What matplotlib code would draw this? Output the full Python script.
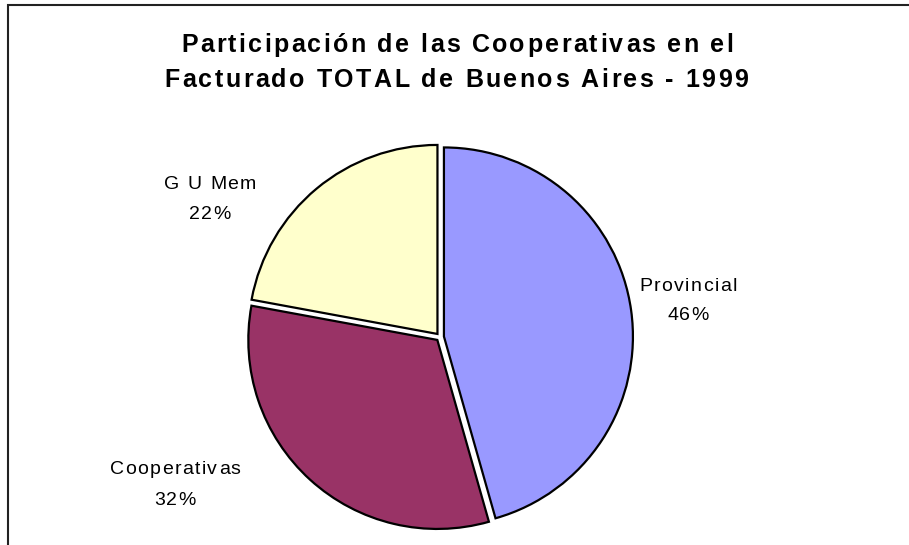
import matplotlib.pyplot as plt
from matplotlib.patches import Rectangle
from matplotlib import font_manager
from matplotlib.ft2font import FT2Font

try:
    from matplotlib.ft2font import LoadFlags
    NO_HINT = LoadFlags.NO_HINTING
except ImportError:
    NO_HINT = 2

labels = ["Provincial", "Cooperativas", "G U Mem"]
shares = [45.6, 32.3, 22.1]
colors = ["#9999FF", "#993366", "#FFFFCC"]
explode = [0.021, 0.021, 0.021]

title_lines = ["Participación de las Cooperativas en el",
               "Facturado TOTAL de Buenos Aires - 1999"]

W, H = 909, 545
FAMILY = "Liberation Sans"

fig = plt.figure(figsize=(W / 100, H / 100), dpi=100)


def spaced(text, cx, base_y, size, weight="normal", width=None, track=0.0):
    # letter-spaced text, one glyph per text object, centred on its ink
    path = font_manager.findfont(font_manager.FontProperties(family=FAMILY, weight=weight))
    font = FT2Font(path, hinting_factor=1)
    font.set_size(size, 100)
    metrics = []
    for ch in text:
        g = font.load_char(ord(ch), flags=NO_HINT)
        metrics.append((g.linearHoriAdvance / 65536, g.horiBearingX / 64, g.width / 64))
    natural = sum(m[0] for m in metrics)
    if width is not None:
        track = (width - natural) / (len(text) - 1)
    x = cx - (natural + track * (len(text) - 1)) / 2
    for ch, (adv, bear, inkw) in zip(text, metrics):
        if ch != " ":
            fig.text((x + bear + inkw / 2) / W, 1 - base_y / H, ch, ha="center",
                     va="baseline", fontsize=size, fontweight=weight, family=FAMILY)
        x += adv + track


# frame round the chart area (runs off the right and bottom edges)
fig.patches.append(Rectangle((8 / W, -0.1), 1.2, 1.1 - 5 / H, transform=fig.transFigure,
                             fill=False, edgecolor="#222222", linewidth=1.5))

R = 189
cx, cy = 440, 337
ax = fig.add_axes([(cx - 1.1 * R) / W, (H - cy - 1.1 * R) / H, 2.2 * R / W, 2.2 * R / H])
ax.pie(shares, colors=colors, explode=explode, startangle=90, counterclock=False,
       wedgeprops=dict(edgecolor="black", linewidth=1.6))
ax.set_xlim(-1.1, 1.1)
ax.set_ylim(-1.1, 1.1)
ax.set_aspect("equal")

# category labels outside the pie, name over percentage
label_cx = [688, 175, 210]
label_base = [(291, 320), (474, 505), (189, 219)]
for lab, val, x0, (b1, b2) in zip(labels, shares, label_cx, label_base):
    spaced(lab, x0, b1, 14, track=1.7)
    spaced("%.0f%%" % val, x0, b2, 14, track=1.7)

# title
spaced(title_lines[0], 457, 52, 18, weight="bold", width=553)
spaced(title_lines[1], 456, 87, 18, weight="bold", width=584)

fig.savefig("out.png", dpi=100)
